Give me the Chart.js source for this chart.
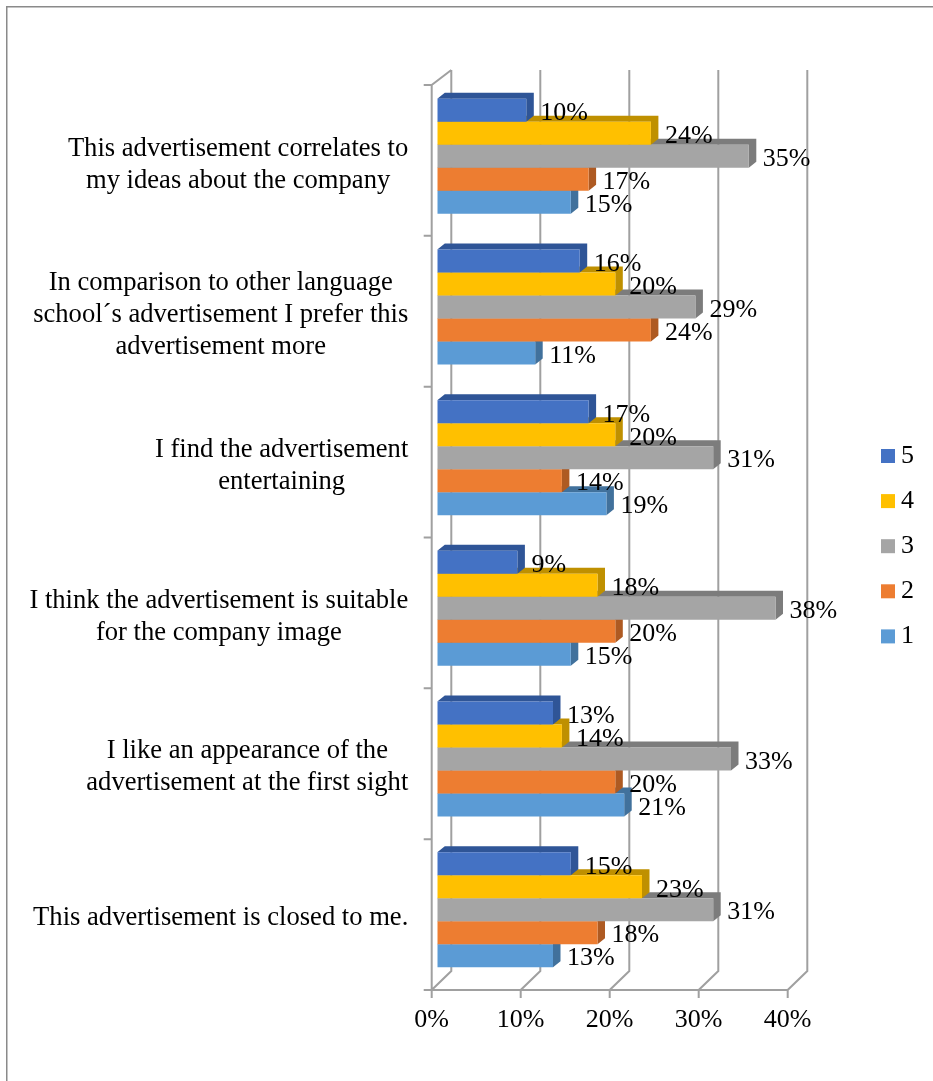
<!DOCTYPE html>
<html>
<head>
<meta charset="utf-8">
<script src="https://cdn.jsdelivr.net/npm/chart.js@4.4.0/dist/chart.umd.min.js"></script>
<style>
  html, body { margin: 0; padding: 0; background: #fff; }
  canvas { display: block; }
</style>
</head>
<body>
<canvas id="canvas" width="933" height="1081"></canvas>
<script>
const categories = [
  ['This advertisement correlates to', 'my ideas about the company'],
  ['In comparison to other language', 'school\u00b4s advertisement I prefer this', 'advertisement more'],
  ['I find the advertisement', 'entertaining'],
  ['I think the advertisement is suitable', 'for the company image'],
  ['I like an appearance of the', 'advertisement at the first sight'],
  ['This advertisement is closed to me.']
];
const seriesNames = ['5', '4', '3', '2', '1'];
const score5 = [10, 16, 17, 9, 13, 15];
const score4 = [24, 20, 20, 18, 14, 23];
const score3 = [35, 29, 31, 38, 33, 31];
const score2 = [17, 24, 14, 20, 20, 18];
const score1 = [15, 11, 19, 15, 21, 13];
const xTicks = [0, 10, 20, 30, 40];

const frontColors = ['#4472C4', '#FFC000', '#A5A5A5', '#ED7D31', '#5B9BD5'];
const shadeColors = ['#2F5597', '#BF9000', '#7C7C7C', '#AE5A22', '#41719C'];

const FONT = '26px "Liberation Serif", "Times New Roman", serif';
const CAT_FONT = '26.6px "Liberation Serif", "Times New Roman", serif';
const DEPTH_X = 7.5, DEPTH_Y = 6;   // bar top/side faces
const GRID = '#a0a0a0';

// walls, floor, 3d faces, labels and legend
const box3d = {
  id: 'box3d',
  beforeDraw(chart) {
    const ctx = chart.ctx;
    ctx.save();
    ctx.fillStyle = '#fff';
    ctx.fillRect(0, 0, chart.width, chart.height);
    ctx.strokeStyle = '#8a8a8a';
    ctx.lineWidth = 1.5;
    ctx.beginPath();
    ctx.moveTo(6.75, chart.height);
    ctx.lineTo(6.75, 6.75);
    ctx.lineTo(chart.width, 6.75);
    ctx.stroke();
    ctx.restore();
  },
  beforeDatasetsDraw(chart) {
    const { ctx, chartArea: a, scales: { x } } = chart;
    const fTop = a.top + 4, fBot = a.bottom + 5, bTop = a.top - 11, bBot = a.bottom - 14;
    const fx = v => x.getPixelForValue(v) - 5.6;
    const bx = v => x.getPixelForValue(v) + 14;
    const last = xTicks[xTicks.length - 1];

    ctx.save();
    ctx.strokeStyle = GRID;
    ctx.lineWidth = 2;
    ctx.beginPath();
    xTicks.forEach(v => {
      ctx.moveTo(bx(v), bTop);
      ctx.lineTo(bx(v), bBot);
      ctx.lineTo(fx(v), fBot);
      ctx.lineTo(fx(v), fBot + 8);
    });
    ctx.moveTo(fx(0), fBot);
    ctx.lineTo(fx(0), fTop);
    ctx.lineTo(bx(0), bTop);
    ctx.moveTo(fx(0) - 8, fBot);
    ctx.lineTo(fx(last), fBot);
    const step = (fBot - fTop) / categories.length;
    for (let k = 0; k < categories.length; k++) {
      ctx.moveTo(fx(0) - 8, fTop + k * step);
      ctx.lineTo(fx(0), fTop + k * step);
    }
    ctx.stroke();

    // top and right faces, lower bars first so the upper ones cover them
    const n = chart.data.datasets.length;
    for (let i = 0; i < categories.length; i++) {
      for (let d = n - 1; d >= 0; d--) {
        const el = chart.getDatasetMeta(d).data[i];
        const top = el.y - el.height / 2, bot = el.y + el.height / 2;
        ctx.fillStyle = shadeColors[d];
        ctx.beginPath();
        ctx.moveTo(el.base, top);
        ctx.lineTo(el.base + DEPTH_X, top - DEPTH_Y);
        ctx.lineTo(el.x + DEPTH_X, top - DEPTH_Y);
        ctx.lineTo(el.x + DEPTH_X, bot - DEPTH_Y);
        ctx.lineTo(el.x, bot);
        ctx.lineTo(el.x, top);
        ctx.closePath();
        ctx.fill();
      }
    }
    ctx.restore();
  },
  afterDatasetsDraw(chart) {
    const { ctx, chartArea: a, scales: { x, y } } = chart;
    ctx.save();
    ctx.font = FONT;
    ctx.fillStyle = '#000';
    ctx.textBaseline = 'middle';

    // value labels
    ctx.textAlign = 'left';
    chart.data.datasets.forEach((ds, d) => {
      chart.getDatasetMeta(d).data.forEach((el, i) => {
        ctx.fillText(ds.data[i] + '%', el.x + 14, el.y + 3);
      });
    });

    // x axis labels
    ctx.textAlign = 'center';
    xTicks.forEach(v => {
      ctx.fillText(v + '%', x.getPixelForValue(v) - 5.6, a.bottom + 35);
    });

    // category labels, centred lines, right edge next to the wall
    ctx.font = CAT_FONT;
    const right = x.getPixelForValue(0) - 29;
    categories.forEach((lines, i) => {
      const cy = y.getPixelForValue(i) + 8.5;
      const w = Math.max(...lines.map(l => ctx.measureText(l).width));
      const cx = right - w / 2;
      lines.forEach((l, j) => {
        ctx.fillText(l, cx, cy + (j - (lines.length - 1) / 2) * 32);
      });
    });

    // legend
    ctx.font = FONT;
    ctx.textAlign = 'left';
    chart.data.datasets.forEach((ds, d) => {
      const cy = 456 + d * 45.1;
      ctx.fillStyle = ds.backgroundColor;
      ctx.fillRect(881, cy - 7, 14, 14);
      ctx.fillStyle = '#000';
      ctx.fillText(ds.label, 901, cy);
    });
    ctx.restore();
  }
};

const values = [score5, score4, score3, score2, score1];

new Chart(document.getElementById('canvas').getContext('2d'), {
  type: 'bar',
  data: {
    labels: categories.map(c => c.join(' ')),
    datasets: values.map((v, d) => ({
      label: seriesNames[d],
      data: v,
      backgroundColor: frontColors[d],
      borderWidth: 0,
      categoryPercentage: 0.763,
      barPercentage: 1
    }))
  },
  options: {
    indexAxis: 'y',
    responsive: false,
    animation: false,
    devicePixelRatio: 1,
    layout: { padding: { top: 81, bottom: 96, left: 437.3, right: 139.7 } },
    scales: {
      x: { type: 'linear', min: 0, max: 40, display: false },
      y: { type: 'category', display: false }
    },
    plugins: {
      legend: { display: false },
      tooltip: { enabled: false }
    }
  },
  plugins: [box3d]
});
</script>
</body>
</html>
